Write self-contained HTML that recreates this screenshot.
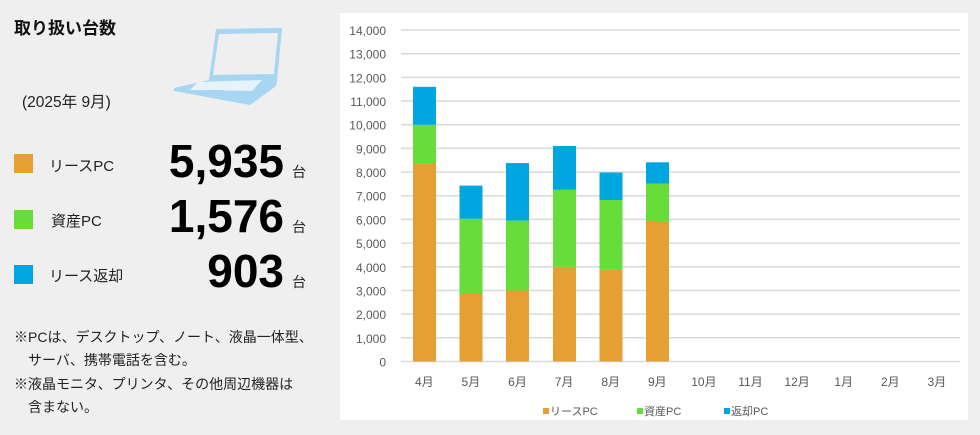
<!DOCTYPE html>
<html><head><meta charset="utf-8"><style>
body{margin:0;width:980px;height:435px;background:#efefef;overflow:hidden}
svg{display:block}
</style></head><body>
<svg width="980" height="435" xmlns="http://www.w3.org/2000/svg" font-family="Liberation Sans, Noto Sans CJK JP, sans-serif">
<rect width="980" height="435" fill="#efefef"/>
<text x="14" y="34" font-size="17" font-weight="bold" fill="#111">取り扱い台数</text>
<!-- laptop -->
<g fill="#a6d6f2">
<polygon points="216,29 282,28 277,81 209,80"/>
<polygon points="174,88 209,80 277,81 276,86 250,105 174,91"/>
</g>
<polygon points="219,34 278,33 274,74 213,75" fill="#efefef"/>
<polygon points="198,82 262,80 252,91 190,90" fill="#e6f3fb"/>
<polygon points="205,90 224,90 222,94 203,94" fill="#a6d6f2"/>
<text x="22" y="107" font-size="15.5" fill="#222">(2025年 9月)</text>
<rect x="14" y="154" width="19" height="19" fill="#e69f32"/>
<rect x="14" y="210" width="19" height="19" fill="#66dd39"/>
<rect x="14" y="265" width="19" height="19" fill="#00a6e0"/>
<text x="49" y="171" font-size="15" fill="#222">リースPC</text>
<text x="51" y="226" font-size="15" fill="#222">資産PC</text>
<text x="49" y="281" font-size="15" fill="#222">リース返却</text>
<g font-size="46" font-weight="bold" fill="#000" text-anchor="end">
<text x="284" y="177">5,935</text>
<text x="284" y="232">1,576</text>
<text x="284" y="287">903</text>
</g>
<g font-size="14" fill="#222"><text x="292" y="177">台</text><text x="292" y="232">台</text><text x="292" y="287">台</text></g>
<g font-size="14" fill="#222">
<text x="14" y="342">※PCは、デスクトップ、ノート、液晶一体型、</text>
<text x="28" y="365">サーバ、携帯電話を含む。</text>
<text x="14" y="389">※液晶モニタ、プリンタ、その他周辺機器は</text>
<text x="28" y="412">含まない。</text>
</g>
<!-- chart panel -->
<rect x="340" y="13" width="628" height="407" fill="#fff"/>
<g stroke="#d9d9d9" stroke-width="1.5">
<line x1="401" x2="960" y1="30" y2="30"/><line x1="401" x2="960" y1="53.7" y2="53.7"/><line x1="401" x2="960" y1="77.4" y2="77.4"/><line x1="401" x2="960" y1="101" y2="101"/><line x1="401" x2="960" y1="124.7" y2="124.7"/><line x1="401" x2="960" y1="148.4" y2="148.4"/><line x1="401" x2="960" y1="172.1" y2="172.1"/><line x1="401" x2="960" y1="195.7" y2="195.7"/><line x1="401" x2="960" y1="219.4" y2="219.4"/><line x1="401" x2="960" y1="243.1" y2="243.1"/><line x1="401" x2="960" y1="266.8" y2="266.8"/><line x1="401" x2="960" y1="290.5" y2="290.5"/><line x1="401" x2="960" y1="314.1" y2="314.1"/><line x1="401" x2="960" y1="337.8" y2="337.8"/><line x1="401" x2="960" y1="361.5" y2="361.5"/>
</g>
<g font-size="12" fill="#595959" text-anchor="end">
<text x="386" y="35">14,000</text><text x="386" y="58.7">13,000</text><text x="386" y="82.4">12,000</text><text x="386" y="106">11,000</text><text x="386" y="129.7">10,000</text><text x="386" y="153.4">9,000</text><text x="386" y="177.1">8,000</text><text x="386" y="200.7">7,000</text><text x="386" y="224.4">6,000</text><text x="386" y="248.1">5,000</text><text x="386" y="271.8">4,000</text><text x="386" y="295.5">3,000</text><text x="386" y="319.1">2,000</text><text x="386" y="342.8">1,000</text><text x="386" y="366.5">0</text>
</g>
<g>
<rect x="413" y="163.1" width="23" height="198.4" fill="#e69f32"/><rect x="413" y="124.7" width="23" height="38.4" fill="#66dd39"/><rect x="413" y="86.8" width="23" height="37.9" fill="#00a6e0"/>
<rect x="459.5" y="294" width="23" height="67.5" fill="#e69f32"/><rect x="459.5" y="218.7" width="23" height="75.3" fill="#66dd39"/><rect x="459.5" y="185.6" width="23" height="33.1" fill="#00a6e0"/>
<rect x="506" y="290.5" width="23" height="71" fill="#e69f32"/><rect x="506" y="220.6" width="23" height="69.9" fill="#66dd39"/><rect x="506" y="163.1" width="23" height="57.5" fill="#00a6e0"/>
<rect x="553" y="266.8" width="23" height="94.7" fill="#e69f32"/><rect x="553" y="189.8" width="23" height="77" fill="#66dd39"/><rect x="553" y="146" width="23" height="43.8" fill="#00a6e0"/>
<rect x="599.5" y="269.9" width="23" height="91.6" fill="#e69f32"/><rect x="599.5" y="200" width="23" height="69.9" fill="#66dd39"/><rect x="599.5" y="172.5" width="23" height="27.5" fill="#00a6e0"/>
<rect x="646" y="221" width="23" height="140.5" fill="#e69f32"/><rect x="646" y="183.6" width="23" height="37.4" fill="#66dd39"/><rect x="646" y="162.3" width="23" height="21.3" fill="#00a6e0"/>
</g>
<g font-size="12" fill="#595959" text-anchor="middle">
<text x="424.3" y="386">4月</text><text x="470.9" y="386">5月</text><text x="517.5" y="386">6月</text><text x="564.1" y="386">7月</text><text x="610.7" y="386">8月</text><text x="657.3" y="386">9月</text><text x="703.9" y="386">10月</text><text x="750.5" y="386">11月</text><text x="797.1" y="386">12月</text><text x="843.7" y="386">1月</text><text x="890.3" y="386">2月</text><text x="936.9" y="386">3月</text>
</g>
<g font-size="11" fill="#595959">
<rect x="543" y="408" width="6" height="6" fill="#e69f32"/><text x="550" y="415">リースPC</text>
<rect x="637" y="408" width="6" height="6" fill="#66dd39"/><text x="644" y="415">資産PC</text>
<rect x="724" y="408" width="6" height="6" fill="#00a6e0"/><text x="731" y="415">返却PC</text>
</g>
</svg>
</body></html>
